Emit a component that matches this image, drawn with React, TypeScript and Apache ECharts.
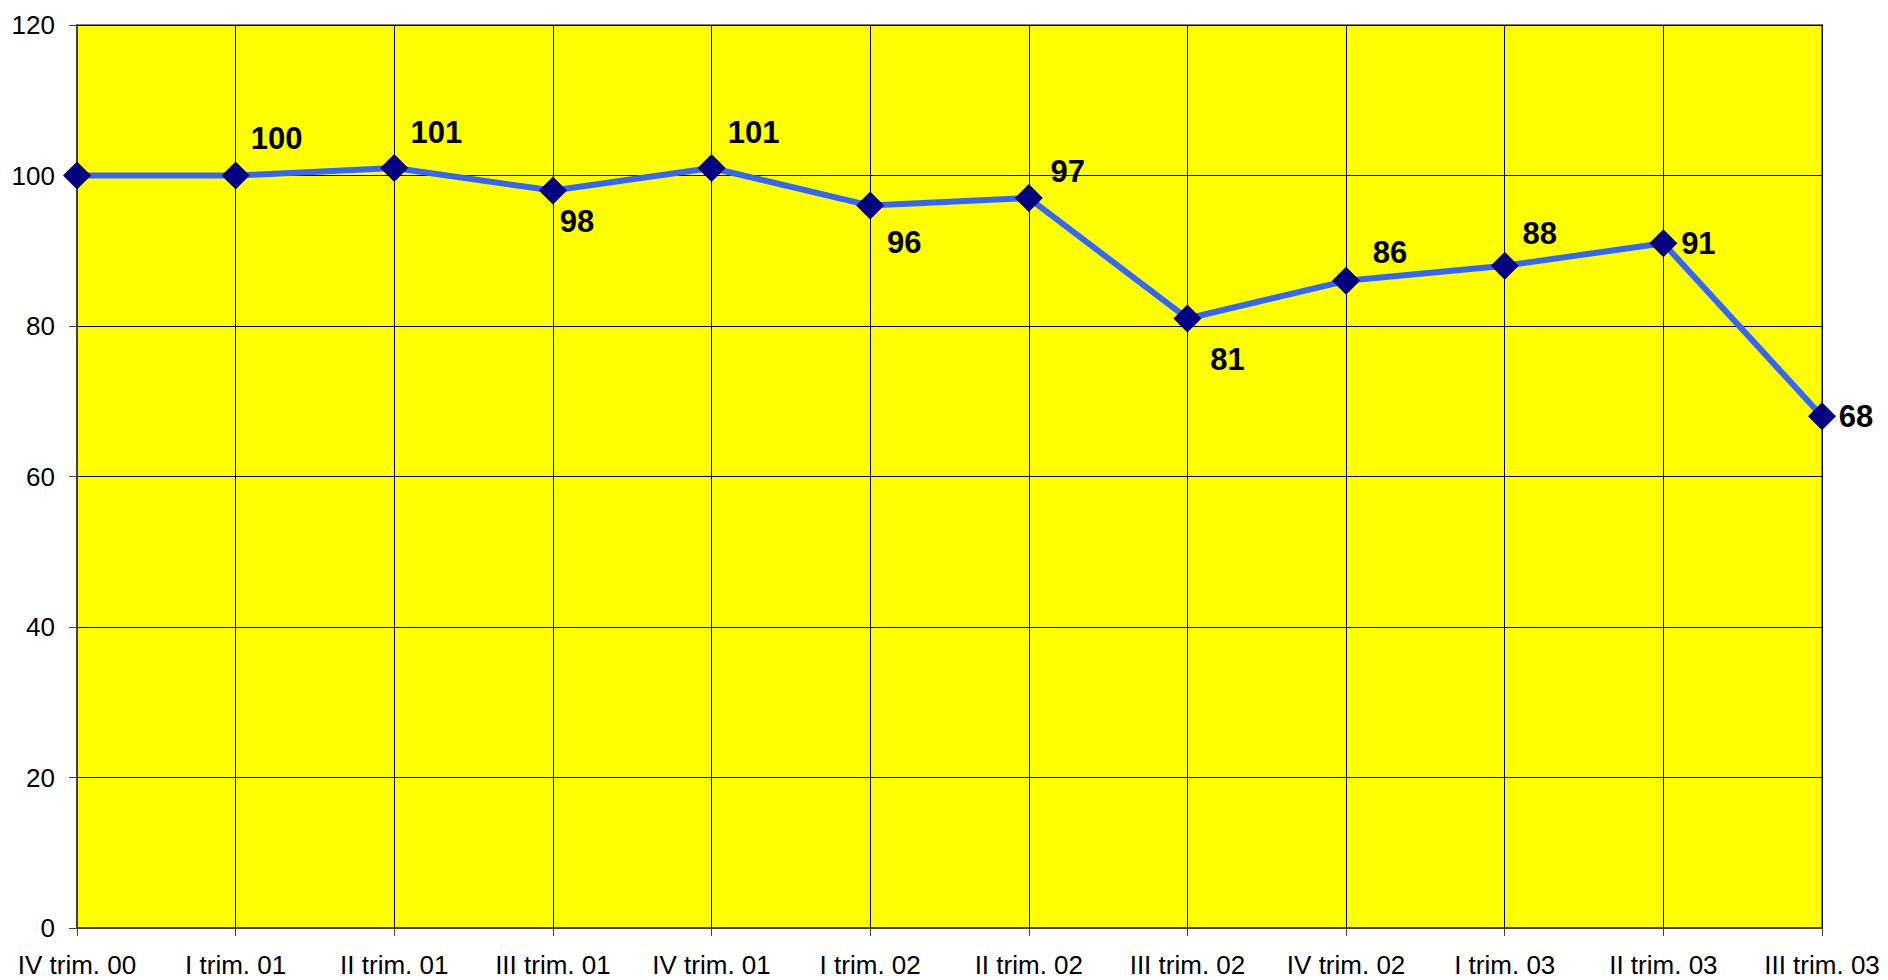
import React, { useEffect, useRef } from "react";
import * as echarts from "echarts";

const categories = [
  "IV trim. 00",
  "I trim. 01",
  "II trim. 01",
  "III trim. 01",
  "IV trim. 01",
  "I trim. 02",
  "II trim. 02",
  "III trim. 02",
  "IV trim. 02",
  "I trim. 03",
  "II trim. 03",
  "III trim. 03",
];
const values = [100, 100, 101, 98, 101, 96, 97, 81, 86, 88, 91, 68];
const showLabel = [false, true, true, true, true, true, true, true, true, true, true, true];
const labelOffsets: [number, number][] = [
  [0, 0],
  [41, -37],
  [42, -35],
  [24, 31],
  [42, -35],
  [34, 37],
  [39, -27],
  [40, 41],
  [44, -28],
  [35, -32],
  [35, 0],
  [34, 0],
];

const FONT = "'Liberation Sans', Arial, sans-serif";

export default function App() {
  const ref = useRef<HTMLDivElement>(null);
  useEffect(() => {
    if (!ref.current) return;
    const chart = echarts.init(ref.current, null, { renderer: "svg" });
    chart.setOption({
      animation: false,
      backgroundColor: "#ffffff",
      grid: {
        left: 77,
        right: 66,
        top: 25,
        bottom: 52,
        show: true,
        backgroundColor: "#ffff00",
        borderColor: "#808080",
        borderWidth: 2,
      },
      xAxis: {
        type: "category",
        data: categories,
        boundaryGap: false,
        axisLine: { show: true, lineStyle: { color: "#404040", width: 2 } },
        axisTick: { show: true, length: 8, inside: false, lineStyle: { color: "#404040", width: 1 } },
        axisLabel: { color: "#000", fontSize: 26, fontFamily: FONT, margin: 24, interval: 0 },
        splitLine: { show: true, lineStyle: { color: "#000", width: 1 } },
      },
      yAxis: {
        type: "value",
        min: 0,
        max: 120,
        interval: 20,
        axisLine: { show: true, lineStyle: { color: "#404040", width: 2 } },
        axisTick: { show: true, length: 8, lineStyle: { color: "#404040", width: 1 } },
        axisLabel: { color: "#000", fontSize: 26, fontFamily: FONT, margin: 22 },
        splitLine: { show: true, lineStyle: { color: "#000", width: 1 } },
      },
      series: [
        {
          type: "line",
          data: values.map((v, i) => ({
            value: v,
            label: {
              show: showLabel[i],
              position: "inside",
              offset: labelOffsets[i],
              align: "center",
              verticalAlign: "middle",
            },
          })),
          symbol: "diamond",
          symbolSize: [28, 28],
          itemStyle: { color: "#000080" },
          lineStyle: { color: "#3366ff", width: 6 },
          label: {
            color: "#000",
            fontSize: 31,
            fontWeight: "bold",
            fontFamily: FONT,
          },
          z: 5,
        },
      ],
    });
    return () => chart.dispose();
  }, []);
  return (
    <div
      ref={ref}
      style={{ position: "fixed", left: 0, top: 0, width: "1888px", height: "980px" }}
    />
  );
}
